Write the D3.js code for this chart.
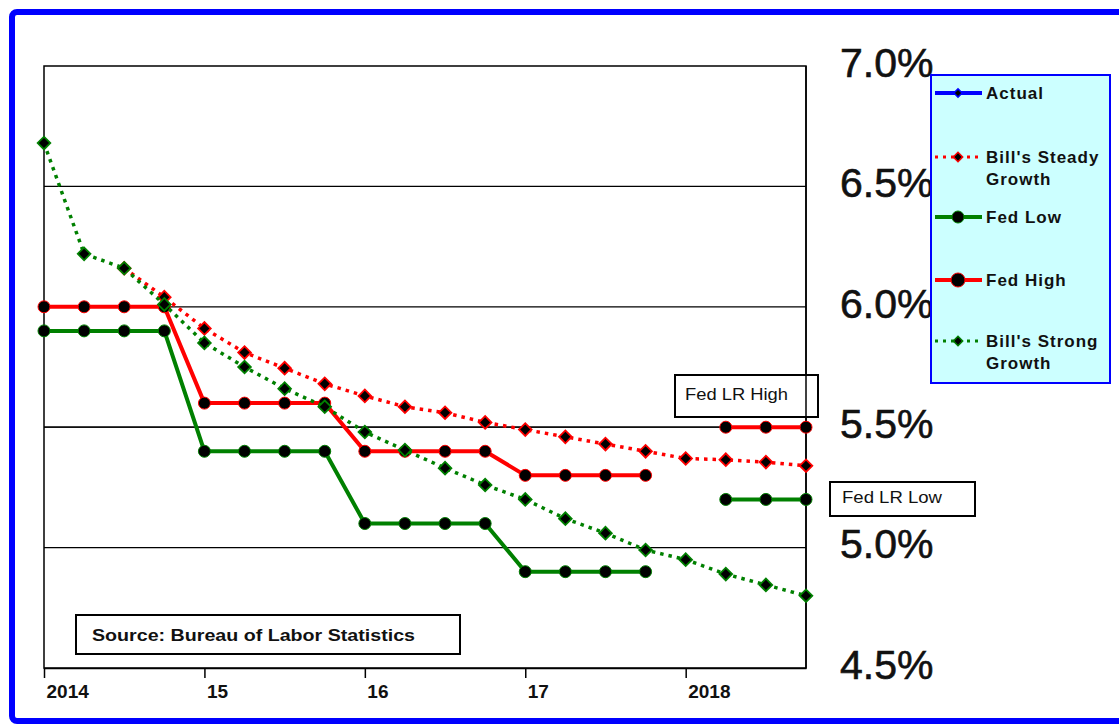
<!DOCTYPE html>
<html>
<head>
<meta charset="utf-8">
<script src="https://cdn.jsdelivr.net/npm/d3@7"></script>
<style>
  html, body { margin: 0; padding: 0; background: #fff; }
  svg { display: block; }
  text { font-family: "Liberation Sans", Arial, sans-serif; fill: #111; }
</style>
</head>
<body>
<svg id="chart" width="1119" height="727"></svg>
<script>
// ---------- data ----------
const quarters = ["2014Q1","2014Q2","2014Q3","2014Q4","2015Q1","2015Q2","2015Q3","2015Q4",
                  "2016Q1","2016Q2","2016Q3","2016Q4","2017Q1","2017Q2","2017Q3","2017Q4",
                  "2018Q1","2018Q2","2018Q3","2018Q4"];
const xTickQuarters = ["2014Q1","2015Q1","2016Q1","2017Q1","2018Q1"];
const xTickLabels = ["2014","15","16","17","2018"];
const yTicks = [4.5, 5.0, 5.5, 6.0, 6.5, 7.0];

const actual = quarters.map(() => null);
const steadyGrowth = [null, null, 6.16, 6.04, 5.91, 5.81, 5.745, 5.68, 5.63, 5.585,
                      5.56, 5.52, 5.49, 5.46, 5.43, 5.40, 5.37, 5.365, 5.355, 5.34];
const strongGrowth = [6.68, 6.22, 6.16, 6.01, 5.85, 5.75, 5.66, 5.585, 5.48, 5.405,
                      5.33, 5.26, 5.20, 5.12, 5.06, 4.99, 4.95, 4.89, 4.845, 4.80];
const fedHigh = [6.0, 6.0, 6.0, 6.0, 5.6, 5.6, 5.6, 5.6, 5.4, 5.4,
                 5.4, 5.4, 5.3, 5.3, 5.3, 5.3, null, 5.5, 5.5, 5.5];
const fedLow  = [5.9, 5.9, 5.9, 5.9, 5.4, 5.4, 5.4, 5.4, 5.1, 5.1,
                 5.1, 5.1, 4.9, 4.9, 4.9, 4.9, null, 5.2, 5.2, 5.2];

const seriesNames = ["Actual", "Bill's Steady Growth", "Fed Low", "Fed High", "Bill's Strong Growth"];
const sourceText = "Source:  Bureau of Labor Statistics";
const noteHigh = "Fed  LR High";
const noteLow = "Fed  LR Low";

// ---------- layout ----------
const svg = d3.select("#chart");
const L = 44, R = 806, T = 66, B = 668;

const x = d3.scalePoint().domain(quarters).range([L, R]).padding(0);
const y = d3.scaleLinear().domain([4.5, 7.0]).range([B, T]);

// outer blue frame
svg.append("rect").attr("x", 12).attr("y", 12).attr("width", 1114).attr("height", 709)
  .attr("rx", 5).attr("fill", "#fff").attr("stroke", "#0000ff").attr("stroke-width", 6);

// gridlines
svg.append("g").selectAll("line").data(yTicks.filter(v => v > 4.5 && v < 7.0)).join("line")
  .attr("x1", L).attr("x2", R).attr("y1", d => y(d)).attr("y2", d => y(d))
  .attr("stroke", "#000").attr("stroke-width", 1.3);

// plot frame
svg.append("rect").attr("x", L).attr("y", T).attr("width", R - L).attr("height", B - T)
  .attr("fill", "none").attr("stroke", "#000").attr("stroke-width", 1.5);

// x axis
const xAxis = d3.axisBottom(x).tickValues(xTickQuarters)
  .tickFormat((d, i) => xTickLabels[i]).tickSize(10).tickSizeOuter(0);
const gx = svg.append("g").attr("transform", `translate(0,${B})`).call(xAxis);
gx.select(".domain").attr("stroke", "#000").attr("stroke-width", 1.5);
gx.selectAll(".tick line").attr("stroke", "#000").attr("stroke-width", 1.5);
gx.selectAll(".tick text").attr("text-anchor", "start").attr("dx", 2).attr("y", 17)
  .attr("dy", "0.71em").style("font-family", "'Liberation Sans', Arial, sans-serif")
  .style("font-size", "19px").style("font-weight", "bold").style("fill", "#111");

// y axis labels on right
const yAxis = d3.axisRight(y).tickValues(yTicks).tickFormat(d => d.toFixed(1) + "%")
  .tickSize(0).tickPadding(34);
const gy = svg.append("g").attr("transform", `translate(${R},0)`).call(yAxis);
gy.select(".domain").remove();
gy.selectAll(".tick text").attr("dy", "0.25em")
  .style("font-family", "'Liberation Sans', Arial, sans-serif")
  .style("font-size", "41px").style("fill", "#111")
  .style("stroke", "#111").style("stroke-width", "0.6px");

// source box
svg.append("rect").attr("x", 76).attr("y", 615).attr("width", 384).attr("height", 39)
  .attr("fill", "#fff").attr("stroke", "#000").attr("stroke-width", 2);
svg.append("text").attr("x", 92).attr("y", 641).text(sourceText)
  .attr("font-size", 17).attr("font-weight", "bold").attr("textLength", 323)
  .attr("lengthAdjust", "spacingAndGlyphs");

// note boxes
svg.append("rect").attr("x", 675).attr("y", 375).attr("width", 143).attr("height", 42)
  .attr("fill", "#fff").attr("stroke", "#000").attr("stroke-width", 2);
svg.append("text").attr("x", 685).attr("y", 400).text(noteHigh)
  .attr("font-size", 16).attr("textLength", 103).attr("lengthAdjust", "spacingAndGlyphs");
svg.append("rect").attr("x", 830).attr("y", 482).attr("width", 145).attr("height", 34)
  .attr("fill", "#fff").attr("stroke", "#000").attr("stroke-width", 2);
svg.append("text").attr("x", 842).attr("y", 503).text(noteLow)
  .attr("font-size", 16).attr("textLength", 100).attr("lengthAdjust", "spacingAndGlyphs");

// redraw plot right border over note box
svg.append("line").attr("x1", R).attr("x2", R).attr("y1", T).attr("y2", B)
  .attr("stroke", "#000").attr("stroke-width", 1.5);
svg.append("line").attr("x1", L).attr("x2", R).attr("y1", y(5.5)).attr("y2", y(5.5))
  .attr("stroke", "#000").attr("stroke-width", 1.3);

// ---------- series ----------
const diamond = d3.symbol().type(d3.symbolSquare).size(80);

function drawStep(values, color) {
  const pts = values.map((v, i) => ({ q: quarters[i], v }));
  const line = d3.line().defined(d => d.v != null).x(d => x(d.q)).y(d => y(d.v));
  const g = svg.append("g");
  g.append("path").datum(pts).attr("d", line).attr("fill", "none")
    .attr("stroke", color).attr("stroke-width", 4).attr("stroke-linejoin", "round");
  g.selectAll("circle").data(pts.filter(d => d.v != null)).join("circle")
    .attr("cx", d => x(d.q)).attr("cy", d => y(d.v)).attr("r", 6)
    .attr("fill", "#000").attr("stroke", color).attr("stroke-width", 1);
}
function drawDotted(values, color) {
  const pts = values.map((v, i) => ({ q: quarters[i], v }));
  const line = d3.line().defined(d => d.v != null).x(d => x(d.q)).y(d => y(d.v));
  const g = svg.append("g");
  g.append("path").datum(pts).attr("d", line).attr("fill", "none")
    .attr("stroke", color).attr("stroke-width", 3.5).attr("stroke-dasharray", "3.5 5");
  g.selectAll("path.m").data(pts.filter(d => d.v != null)).join("path").attr("class", "m")
    .attr("transform", d => `translate(${x(d.q)},${y(d.v)}) rotate(45)`).attr("d", diamond)
    .attr("fill", "#000").attr("stroke", color).attr("stroke-width", 1.8);
}

drawStep(fedLow, "#008000");
drawStep(fedHigh, "#ff0000");
drawDotted(steadyGrowth, "#ff0000");
drawDotted(strongGrowth, "#008000");

// ---------- legend ----------
const lg = svg.append("g");
lg.append("rect").attr("x", 931).attr("y", 75).attr("width", 179).attr("height", 308)
  .attr("fill", "#ccffff").attr("stroke", "#0000ff").attr("stroke-width", 2);
const legendItems = [
  { name: seriesNames[0], color: "#0000ff", kind: "solidDiamond", y: 93 },
  { name: seriesNames[1], color: "#ff0000", kind: "dotted", y: 157 },
  { name: seriesNames[2], color: "#008000", kind: "solidCircle", y: 217 },
  { name: seriesNames[3], color: "#ff0000", kind: "solidCircle", y: 280 },
  { name: seriesNames[4], color: "#008000", kind: "dotted", y: 341 }
];
legendItems.forEach(it => {
  const ln = lg.append("line").attr("x1", 935).attr("x2", 982).attr("y1", it.y).attr("y2", it.y)
    .attr("stroke", it.color);
  if (it.kind === "dotted") ln.attr("stroke-width", 3).attr("stroke-dasharray", "3 5");
  else ln.attr("stroke-width", 4);
  if (it.kind === "solidCircle") {
    lg.append("circle").attr("cx", 958).attr("cy", it.y).attr("r", it.name === "Fed High" ? 7 : 6)
      .attr("fill", "#000").attr("stroke", it.color).attr("stroke-width", 1);
  } else {
    lg.append("path").attr("transform", `translate(958,${it.y}) rotate(45)`)
      .attr("d", d3.symbol().type(d3.symbolSquare).size(it.kind === "dotted" ? 44 : 34))
      .attr("fill", "#000").attr("stroke", it.color).attr("stroke-width", 1.5);
  }
  const words = it.name.split(" ");
  let lines = [it.name];
  if (words.length > 2) lines = [words.slice(0, 2).join(" "), words.slice(2).join(" ")];
  lines.forEach((t, k) => {
    lg.append("text").attr("x", 986).attr("y", it.y + 6 + k * 22).text(t)
      .attr("font-size", 17).attr("font-weight", "bold").attr("letter-spacing", 1);
  });
});
</script>
</body>
</html>
